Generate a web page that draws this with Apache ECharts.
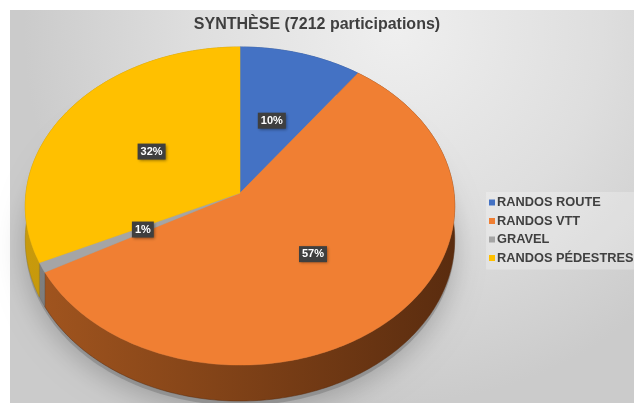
<!DOCTYPE html>
<html>
<head>
<meta charset="utf-8">
<script src="https://cdn.jsdelivr.net/npm/echarts@6/dist/echarts.min.js"></script>
<style>
html,body{margin:0;padding:0;background:#ffffff;}
#c{width:634px;height:403px;}
</style>
</head>
<body>
<div id="c"></div>
<script>
const titleText = 'SYNTHÈSE (7212 participations)';
const categories = ['RANDOS ROUTE', 'RANDOS VTT', 'GRAVEL', 'RANDOS PÉDESTRES'];
const values = [10, 57, 1, 32];
const colors = ['#4472C4', '#F07F33', '#A5A5A5', '#FFC000'];
const sideColors = [
  ['#2f5597', '#27467d'],
  ['#a3561f', '#5a2c0f'],
  ['#7f7f7f', '#6a6a6a'],
  ['#c89a0c', '#a98208']
];

const total = values.reduce((a, b) => a + b, 0);
// projection of a tilted disc (layout constants)
const CX = 240, CY = 193, B = 214, A = 158, K = 0.082, D = 33;
function proj(deg, r, drop) {
  const t = deg * Math.PI / 180;
  const u = r * Math.sin(t), v = -r * Math.cos(t);
  const s = 1 / (1 - K * v);
  return [CX + B * u * s, CY + A * v * s + drop * s];
}
function arc(a0, a1, drop) {
  const pts = [];
  const n = Math.max(2, Math.ceil((a1 - a0) / 1));
  for (let j = 0; j <= n; j++) pts.push(proj(a0 + (a1 - a0) * j / n, 1, drop));
  return pts;
}

const chart = echarts.init(document.getElementById('c'));

function makeRender(i) {
  return function (params, api) {
    const val = api.value(0);
    let before = 0;
    for (let j = 0; j < i; j++) before += values[j];
    const a0 = before / total * 360;
    const a1 = a0 + val / total * 360;
    const children = [];
    if (i === 0) {
      const outline = arc(0, 360, D + 4);
      children.push({
        type: 'polygon', shape: { points: outline }, z2: -5,
        style: { fill: 'rgba(120,120,120,0.5)', shadowBlur: 28, shadowColor: 'rgba(0,0,0,0.45)', shadowOffsetY: 6 }
      });
    }
    const top = arc(a0, a1, 0);
    const bottom = arc(a0, a1, D).reverse();
    children.push({
      type: 'polygon', shape: { points: top.concat(bottom) }, z2: 0,
      style: {
        fill: new echarts.graphic.LinearGradient(25, 0, 455, 0, [
          { offset: 0, color: sideColors[i][0] },
          { offset: 1, color: sideColors[i][1] }
        ], true),
        stroke: sideColors[i][1], lineWidth: 0.5
      }
    });
    children.push({
      type: 'polygon', shape: { points: [[CX, CY]].concat(top) }, z2: 10,
      style: { fill: colors[i], stroke: colors[i], lineWidth: 0.5 }
    });
    const mid = (a0 + a1) / 2;
    const t = mid * Math.PI / 180;
    const u = 0.5 * Math.sin(t), v = -0.5 * Math.cos(t);
    const s = 1 / (1 - K * v);
    children.push({
      type: 'text', x: CX + B * u * s, y: CY + A * v * s, z2: 30,
      style: {
        text: Math.round(val / total * 100) + '%',
        fill: '#ffffff', font: 'bold 11px "Liberation Sans", Arial, sans-serif',
        align: 'center', verticalAlign: 'middle',
        backgroundColor: '#3f3f3f', padding: [3, 3, 2, 3],
        shadowBlur: 3, shadowColor: 'rgba(0,0,0,0.45)', shadowOffsetX: 1, shadowOffsetY: 1
      }
    });
    return { type: 'group', children: children };
  };
}

const series = categories.map((name, i) => ({
  type: 'custom',
  name: name,
  coordinateSystem: 'none',
  itemStyle: { color: colors[i] },
  renderItem: makeRender(i),
  data: [[values[i]]]
}));

chart.setOption({
  animation: false,
  graphic: [{
    type: 'rect', left: 10, top: 10, z: -10, silent: true,
    shape: { width: 624, height: 393 },
    style: {
      fill: new echarts.graphic.RadialGradient(0.62, 0.05, 0.95, [
        { offset: 0, color: '#efefef' },
        { offset: 0.55, color: '#dedede' },
        { offset: 1, color: '#cbcbcb' }
      ])
    }
  }],
  title: {
    text: titleText, left: 'center', top: 12,
    textStyle: { fontFamily: '"Liberation Sans", Arial, sans-serif', fontWeight: 'bold', fontSize: 16, color: '#3f3f3f' }
  },
  legend: {
    orient: 'vertical', left: 486, top: 192,
    data: categories,
    icon: 'rect', itemWidth: 6, itemHeight: 6, itemGap: 5.5,
    backgroundColor: 'rgba(255,255,255,0.25)', padding: [4, 2, 5, 3],
    textStyle: { fontFamily: '"Liberation Sans", Arial, sans-serif', fontWeight: 'bold', fontSize: 12.8, color: '#404040', padding: [0, 0, 0, -3] }
  },
  series: series
});
</script>
</body>
</html>
